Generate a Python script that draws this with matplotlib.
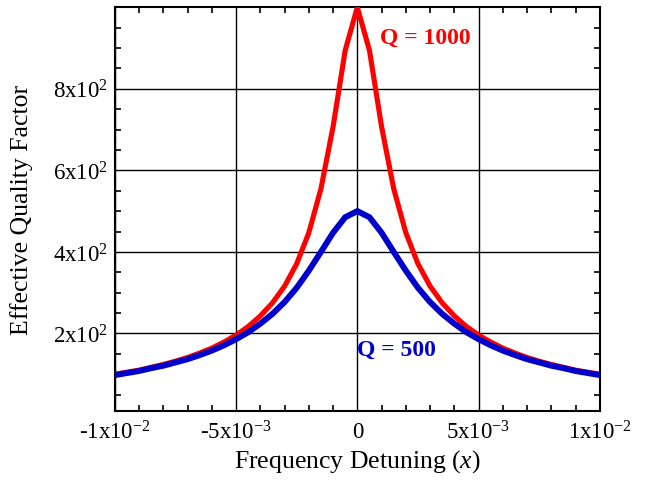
import matplotlib
matplotlib.use('Agg')
import matplotlib.pyplot as plt
from matplotlib.ticker import MultipleLocator, FixedLocator

plt.rcParams['font.family'] = ['Liberation Serif', 'DejaVu Serif']
plt.rcParams['mathtext.fontset'] = 'custom'
plt.rcParams['mathtext.rm'] = 'Liberation Serif'
plt.rcParams['mathtext.it'] = 'Liberation Serif:italic'
plt.rcParams['mathtext.bf'] = 'Liberation Serif:bold'

# frequency detuning, step 5x10^-4
detuning = [-0.01, -0.0095, -0.009, -0.0085, -0.008, -0.0075, -0.007, -0.0065,
            -0.006, -0.0055, -0.005, -0.0045, -0.004, -0.0035, -0.003, -0.0025,
            -0.002, -0.0015, -0.001, -0.0005, 0.0, 0.0005, 0.001, 0.0015, 0.002,
            0.0025, 0.003, 0.0035, 0.004, 0.0045, 0.005, 0.0055, 0.006, 0.0065,
            0.007, 0.0075, 0.008, 0.0085, 0.009, 0.0095, 0.01]

q_eff_1000 = [100, 105, 110, 117, 124, 132, 141, 152, 164, 179, 196, 217, 243,
              275, 316, 371, 447, 555, 707, 894, 1000, 894, 707, 555, 447, 371,
              316, 275, 243, 217, 196, 179, 164, 152, 141, 132, 124, 117, 110,
              105, 100]

q_eff_500 = [98, 103, 108, 115, 121, 129, 137, 147, 158, 171, 186, 203, 224,
             248, 277, 312, 354, 400, 447, 485, 500, 485, 447, 400, 354, 312,
             277, 248, 224, 203, 186, 171, 158, 147, 137, 129, 121, 115, 108,
             103, 98]

x_ticks = [-0.01, -0.005, 0.0, 0.005, 0.01]
x_ticklabels = ['-1x10$^{-2}$', '-5x10$^{-3}$', '0', '5x10$^{-3}$', '1x10$^{-2}$']
y_ticks = [200, 400, 600, 800]
y_ticklabels = ['2x10$^{2}$', '4x10$^{2}$', '6x10$^{2}$', '8x10$^{2}$']

fig = plt.figure(figsize=(6.45, 4.81), dpi=100)
ax = fig.add_axes([0.178, 0.1435, 0.752, 0.8395])

ax.plot(detuning, q_eff_1000, color='#ff0000', linewidth=3.7, solid_joinstyle='miter', zorder=3)
ax.plot(detuning, q_eff_500, color='#0000cc', linewidth=4.3, solid_joinstyle='miter', zorder=4)

ax.set_xlim(-0.01, 0.01)
ax.set_ylim(10, 1000)

ax.xaxis.set_major_locator(FixedLocator(x_ticks))
ax.set_xticklabels(x_ticklabels)
ax.xaxis.set_minor_locator(MultipleLocator(0.001))
ax.yaxis.set_major_locator(FixedLocator(y_ticks))
ax.set_yticklabels(y_ticklabels)
ax.yaxis.set_minor_locator(MultipleLocator(50))

ax.tick_params(which='both', direction='in', top=True, right=True, labelsize=16.5)
ax.tick_params(axis='x', pad=7)
ax.tick_params(axis='y', pad=5)
ax.tick_params(which='major', length=0)
ax.tick_params(which='minor', length=4.5, width=1.2)
ax.grid(True, which='major', color='black', linewidth=1.0)
for sp in ax.spines.values():
    sp.set_linewidth(1.5)

ax.set_xlabel('Frequency Detuning ($x$)', fontsize=18.5, labelpad=2)
ax.set_ylabel('Effective Quality Factor', fontsize=18.5, labelpad=14)

ax.text(0.00095, 925, 'Q = 1000', color='#ff0000', fontsize=17, fontweight='bold', va='center')
ax.text(0.0, 160, 'Q = 500', color='#0000cc', fontsize=17, fontweight='bold', va='center')

fig.savefig('out.png', dpi=100)
